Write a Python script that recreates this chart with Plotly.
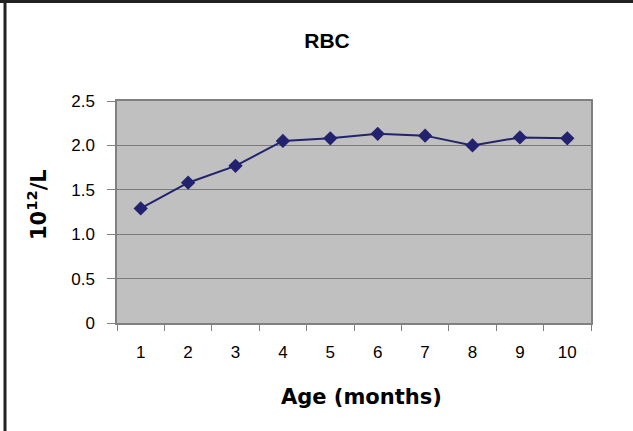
import plotly.graph_objects as go

# values
ages = ['1', '2', '3', '4', '5', '6', '7', '8', '9', '10']
rbc = [1.29, 1.58, 1.77, 2.05, 2.08, 2.13, 2.11, 2.00, 2.09, 2.08]
y_ticks = [0, 0.5, 1.0, 1.5, 2.0, 2.5]
y_ticktext = ['0', '0.5', '1.0', '1.5', '2.0', '2.5']

W, H = 633, 431
L, R, T, B = 117, 42, 101, 108
pw, ph = W - L - R, H - T - B


def px(x):
    return (x - L) / pw


def py(y):
    return (H - B - y) / ph


fig = go.Figure()

fig.add_trace(go.Scatter(
    x=ages,
    y=rbc,
    mode='lines+markers',
    line=dict(color='#22226e', width=2),
    marker=dict(symbol='diamond', size=11, color='#22226e'),
    showlegend=False
))

fig.update_layout(
    width=W,
    height=H,
    margin=dict(l=L, r=R, t=T, b=B),
    paper_bgcolor='white',
    plot_bgcolor='#c0c0c0',
    font=dict(family='Liberation Sans, Arial', size=17, color='black'),
    title=dict(
        text='<b>RBC</b>',
        x=327 / W, xref='container', xanchor='center',
        y=1 - 41 / H, yref='container', yanchor='middle',
        font=dict(family='Liberation Sans, Arial', size=21)
    ),
    xaxis=dict(
        type='category',
        range=[-0.5, 9.5],
        tickson='boundaries',
        ticks='outside', ticklen=6, tickcolor='#808080',
        showline=True, linecolor='#808080', linewidth=1.5, mirror=True,
        showgrid=False,
        ticklabelstandoff=13,
        tickfont=dict(size=17)
    ),
    yaxis=dict(
        range=[0, 2.5],
        tickvals=y_ticks, ticktext=y_ticktext,
        ticks='outside', ticklen=8, tickcolor='#808080',
        showline=True, linecolor='#808080', linewidth=1.5, mirror=True,
        showgrid=True, gridcolor='#7a7a7a', gridwidth=1.2,
        zeroline=False,
        ticklabelstandoff=9,
        tickfont=dict(size=17)
    ),
    annotations=[
        dict(text='<b>Age (months)</b>', x=px(361), y=py(397),
             xref='paper', yref='paper', showarrow=False,
             xanchor='center', yanchor='middle',
             font=dict(family='DejaVu Sans', size=21)),
        dict(text='<b>10<sup>12</sup>/L</b>', x=px(37), y=py(205),
             xref='paper', yref='paper', showarrow=False, textangle=-90,
             xanchor='center', yanchor='middle',
             font=dict(family='DejaVu Sans', size=21)),
    ],
    shapes=[
        dict(type='line', xref='paper', yref='paper',
             x0=px(0), x1=px(W), y0=py(1.5), y1=py(1.5),
             line=dict(color='#222222', width=3)),
        dict(type='line', xref='paper', yref='paper',
             x0=px(5), x1=px(5), y0=py(0), y1=py(H),
             line=dict(color='#222222', width=3)),
    ]
)

fig.write_html("out.html", config={'displayModeBar': False},
               post_script="document.body.style.margin='0';")
